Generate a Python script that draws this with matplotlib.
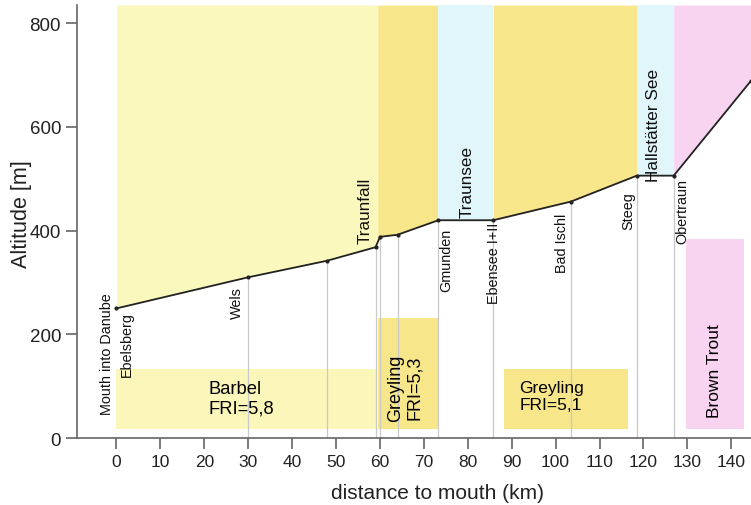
import numpy as np
import matplotlib.pyplot as plt
import matplotlib
from matplotlib.patches import Rectangle

matplotlib.rcParams['font.family'] = ['Liberation Sans', 'DejaVu Sans']

# Longitudinal profile of the river (km from mouth, altitude in m)
dist_km = [0, 30, 48, 59, 60, 64, 73.3, 85.8, 103.5, 118.5, 126.9, 144.5]
alt_m = [250, 310, 342, 368, 388, 392, 420, 420, 456, 506, 506, 689]

# Stations with a vertical marker line
station_km = [30, 48, 59, 60, 64, 73.3, 85.8, 103.5, 118.5, 126.9]

# Zones above the profile: start, end, colour
zone_start = [0, 59.5, 73.3, 85.8, 118.5, 126.9]
zone_end = [59.5, 73.3, 85.8, 118.5, 126.9, 144.5]
zone_color = ['#fbf8bd', '#f7e68a', '#e1f6fa', '#f7e68a', '#e1f6fa', '#f9d4f1']

# Place names (text, km, top of text in m, big font?)
place_names = ['Mouth into Danube', 'Ebelsberg', 'Wels', 'Gmunden', 'Ebensee I+II',
               'Bad Ischl', 'Steeg', 'Obertraun', 'Traunfall', 'Traunsee', 'Hallstätter See']
place_km = [-2.2, 2.3, 27.5, 75, 86, 101.5, 116.5, 128.8, 56.6, 79.9, 122.3]
place_top = [282, 245, 293, 406, 418, 434, 476, 501, 504, 565, 713]
place_big = [False] * 8 + [True] * 3

# Fish region boxes: x0, x1, y1 (all start at 18 m)
fish_labels = ['Barbel\nFRI=5,8', 'Greyling\nFRI=5,3', 'Greyling\nFRI=5,1', 'Brown Trout']
fish_x0 = [0, 59.5, 88.3, 129.8]
fish_x1 = [59.3, 73.3, 116.4, 143]
fish_y1 = [133, 231, 133, 383]
fish_color = ['#fbf6b9', '#f7e68a', '#f7e68a', '#f9d4f1']

y_top = 835
x_min, x_max = -9, 144.5

fig = plt.figure(figsize=(7.51, 5.06), dpi=100)
ax = fig.add_axes([0.1025, 0.1324, 0.8975, 0.8556])

# Coloured zones between profile and top
for a, b, c in zip(zone_start, zone_end, zone_color):
    xs = np.linspace(a, b, 200)
    ys = np.interp(xs, dist_km, alt_m)
    ax.fill_between(xs, ys, y_top, color=c, lw=0, zorder=1)

# Fish region boxes
for x0, x1, y1, c in zip(fish_x0, fish_x1, fish_y1, fish_color):
    ax.add_patch(Rectangle((x0, 18), x1 - x0, y1 - 18, color=c, lw=0, zorder=1))

# Station lines
for s in station_km:
    ax.plot([s, s], [0, np.interp(s, dist_km, alt_m)], color='#c9c9c9', lw=0.9, zorder=2)

ax.plot(dist_km, alt_m, color='#222222', lw=1.3, marker='o', markersize=2, zorder=3)

for name, x, top, big in zip(place_names, place_km, place_top, place_big):
    ax.text(x, top, name, rotation=90, ha='center', va='top',
            fontsize=12.3 if big else 10.4, color='#111111', zorder=4)

ax.text(21, 77, fish_labels[0], ha='left', va='center', fontsize=13.2, zorder=4)
ax.text(65.7, 98, fish_labels[1], rotation=90, ha='center', va='center', fontsize=13, zorder=4)
ax.text(91.7, 81.5, fish_labels[2], ha='left', va='center', fontsize=12.5, zorder=4)
ax.text(136.2, 131, fish_labels[3], rotation=90, ha='center', va='center', fontsize=12.5, zorder=4)

ax.set_xlim(x_min, x_max)
ax.set_ylim(0, y_top)
ax.set_xticks(np.arange(0, 141, 10))
ax.set_yticks([0, 200, 400, 600, 800])

for side in ['top', 'right']:
    ax.spines[side].set_visible(False)
for side in ['left', 'bottom']:
    ax.spines[side].set_color('#666666')
    ax.spines[side].set_linewidth(1.2)
ax.tick_params(axis='both', direction='out', length=8, width=1.2, color='#666666',
               labelcolor='#222222')
ax.tick_params(axis='x', labelsize=12.5)
ax.tick_params(axis='y', labelsize=13.5)

ax.set_xlabel('distance to mouth (km)', fontsize=15, color='#222222')
ax.set_ylabel('Altitude [m]', fontsize=15.5, color='#222222')
ax.xaxis.set_label_coords(0.535, -0.103)
ax.yaxis.set_label_coords(-0.066, 0.52)

fig.savefig('out.png', dpi=100)
